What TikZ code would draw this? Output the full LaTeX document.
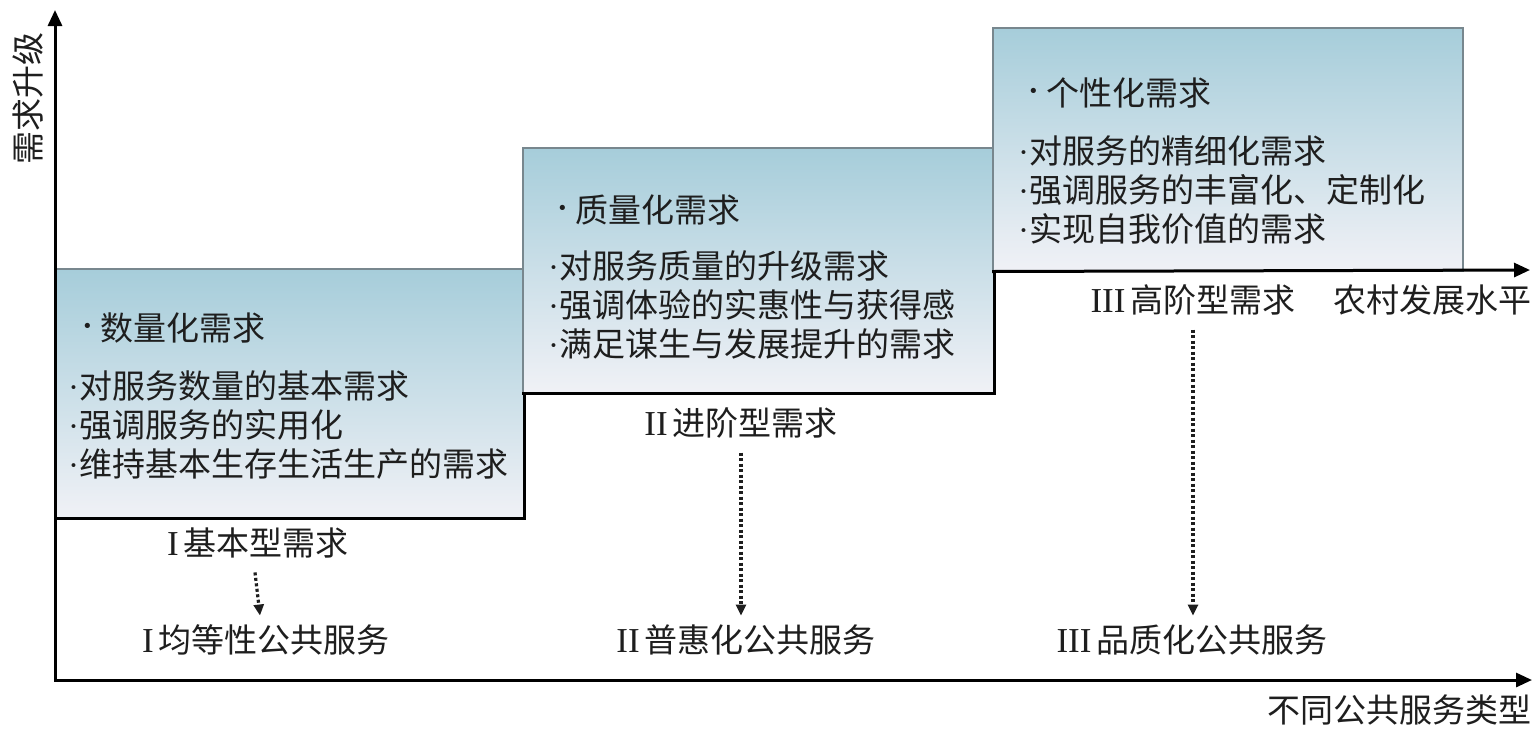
\documentclass[tikz,border=0pt]{standalone}
\usepackage{fontspec}
\newfontfamily\cjk{Noto Sans CJK SC}
\newfontfamily\lat{Liberation Serif}
\usetikzlibrary{arrows.meta}
\definecolor{boxtop}{RGB}{166,205,218}
\definecolor{boxbot}{RGB}{240,241,246}
\definecolor{boxedge}{RGB}{120,135,142}
\definecolor{ink}{RGB}{30,30,30}
\newcommand{\dt}{{\lat\textperiodcentered}}
\newcommand{\hd}{{\lat\fontsize{44}{44}\selectfont\textperiodcentered}\hspace{6pt}}
\newcommand{\rn}[1]{{\lat\fontsize{35}{35}\selectfont #1}\hspace{5pt}}
\tikzset{
  stepbox/.style={draw=boxedge, line width=1.5pt, top color=boxtop, bottom color=boxbot, anchor=north west, inner sep=0pt},
  txt/.style={font=\cjk\fontsize{33}{39}\selectfont, text=ink, inner sep=0pt},
  body/.style={txt, align=left, anchor=west},
  axisline/.style={line width=3pt, draw=black, -{Triangle[length=16pt,width=14pt]}},
  stair/.style={line width=3pt, draw=black},
  dotarrow/.style={line width=3.2pt, draw=ink, dash pattern=on 3pt off 2.5pt, -{Triangle[length=11pt,width=10pt]}}
}
\begin{document}
\begin{tikzpicture}[x=1pt,y=-1pt]
\useasboundingbox[fill=white] (0,0) rectangle (1537,729);
% coordinates
\coordinate (O) at (55,680);
\coordinate (ytop) at (55,10);
\coordinate (xend) at (1532,680);
\coordinate (hend) at (1530,270);
% boxes
\node[stepbox, minimum width=468pt, minimum height=249pt] (b1) at (55,268) {};
\node[stepbox, minimum width=471pt, minimum height=245pt] (b2) at (522,147) {};
\node[stepbox, minimum width=470pt, minimum height=243pt] (b3) at (992,27) {};
% staircase
\draw[stair] (b1.south west) -- (b1.south east) |- (b2.south west) -- (b2.south east) |- (b3.south west);
\draw[axisline] (b3.south west) -- (hend);
% axes
\draw[axisline] (O) -- (ytop);
\draw[axisline, line cap=rect] (O) -- (xend);
% box texts
\node[txt, anchor=west] (h1) at (80,328) {\hd 数量化需求};
\node[body] (t1) at (68,425) {\dt 对服务数量的基本需求\\\dt 强调服务的实用化\\\dt 维持基本生存生活生产的需求};
\node[txt, anchor=west] (h2) at (555,210) {\hd 质量化需求};
\node[body] (t2) at (548,305) {\dt 对服务质量的升级需求\\\dt 强调体验的实惠性与获得感\\\dt 满足谋生与发展提升的需求};
\node[txt, anchor=west] (h3) at (1026,93) {\hd 个性化需求};
\node[body] (t3) at (1018,190) {\dt 对服务的精细化需求\\\dt 强调服务的丰富化、定制化\\\dt 实现自我价值的需求};
% level labels
\node[txt] (d1) at (258,543) {\rn{I}基本型需求};
\node[txt] (d2) at (741,423) {\rn{II}进阶型需求};
\node[txt] (d3) at (1193,300) {\rn{III}高阶型需求};
\node[txt] (s1) at (266,640) {\rn{I}均等性公共服务};
\node[txt] (s2) at (746,640) {\rn{II}普惠化公共服务};
\node[txt] (s3) at (1192,640) {\rn{III}品质化公共服务};
% axis labels
\node[txt, anchor=east] (xl1) at (1532,300) {农村发展水平};
\node[txt, anchor=east] (xl2) at (1532,710) {不同公共服务类型};
\node[txt, rotate=90] (yl) at (28,98) {需求升级};
% dotted arrows
\draw[dotarrow] ([xshift=-3pt,yshift=-14pt]d1.south) -- ([xshift=-6pt,yshift=9pt]s1.north);
\draw[dotarrow] ([yshift=-14pt]d2.south) -- ([yshift=9pt]d2.south |- s2.north);
\draw[dotarrow] ([yshift=-14pt]d3.south) -- ([yshift=9pt]d3.south |- s3.north);
\end{tikzpicture}
\end{document}
